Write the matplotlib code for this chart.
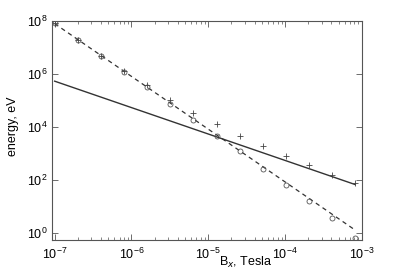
import numpy as np
import matplotlib
matplotlib.use("Agg")
import matplotlib.pyplot as plt
from matplotlib.ticker import LogLocator, NullLocator, FixedLocator

plt.rcParams['font.family'] = ['Liberation Sans', 'DejaVu Sans']
plt.rcParams['mathtext.fontset'] = 'custom'
plt.rcParams['mathtext.rm'] = 'Liberation Sans'

# Magnetic field values (Tesla), doubling each step
b_field = [1e-7, 2e-7, 4e-7, 8e-7, 1.6e-6, 3.2e-6, 6.4e-6, 1.28e-5,
           2.56e-5, 5.12e-5, 1.024e-4, 2.048e-4, 4.096e-4, 8.192e-4]

# log10 of energy (eV) for circle points
log_e_circle = [7.92, 7.28, 6.67, 6.07, 5.50, 4.86, 4.25, 3.68,
                3.08, 2.43, 1.83, 1.22, 0.58, -0.18]
# log10 of energy (eV) for plus points
log_e_plus = [7.92, 7.30, 6.70, 6.10, 5.57, 5.03, 4.55, 4.10,
              3.68, 3.27, 2.92, 2.58, 2.20, 1.90]

# fitted lines (endpoints)
fit_b = [1e-7, 8.192e-4]
dashed_e = [8.0e7, 1.3]
solid_e = [5.4e5, 68.0]

e_circle = 10 ** np.array(log_e_circle)
e_plus = 10 ** np.array(log_e_plus)

fig = plt.figure(figsize=(3.99, 2.70), dpi=100)
ax = fig.add_axes([0.130, 0.111, 0.777, 0.811])

ax.plot(fit_b, solid_e, color="#333333", lw=1.0)
ax.plot(fit_b, dashed_e, color="#333333", lw=0.9, ls=(0, (3.5, 3)))
ax.plot(b_field, e_circle, ls="none", marker="o", ms=3.6, mfc="none",
        mec="#555555", mew=0.6)
ax.plot(b_field, e_plus, ls="none", marker="+", ms=4.5, color="#444444", mew=0.6)

ax.set_xscale("log")
ax.set_yscale("log")
ax.set_xlim(0.92e-7, 1e-3)
ax.set_ylim(0.55, 1e8)

ax.xaxis.set_major_locator(LogLocator(base=10, numticks=10))
ax.xaxis.set_minor_locator(LogLocator(base=10, subs=np.arange(2, 10), numticks=10))
ax.yaxis.set_major_locator(FixedLocator([1e0, 1e2, 1e4, 1e6, 1e8]))
ax.yaxis.set_minor_locator(NullLocator())

ax.tick_params(which="both", direction="in", top=True, right=True,
               colors="#555555", labelcolor="black", labelsize=9)
ax.tick_params(which="major", length=4, width=0.6)
ax.tick_params(which="minor", length=2, width=0.5)
ax.tick_params(axis="x", which="major", pad=5)
ax.tick_params(axis="y", which="major", pad=3)
for s in ax.spines.values():
    s.set_color("#555555")
    s.set_linewidth(0.8)

ax.set_xlabel(r"B$_x$, Tesla", fontsize=9)
ax.xaxis.set_label_coords(0.625, -0.068)
ax.set_ylabel("energy, eV", fontsize=9)
ax.yaxis.set_label_coords(-0.105, 0.52)

fig.savefig("out.png", dpi=100)
